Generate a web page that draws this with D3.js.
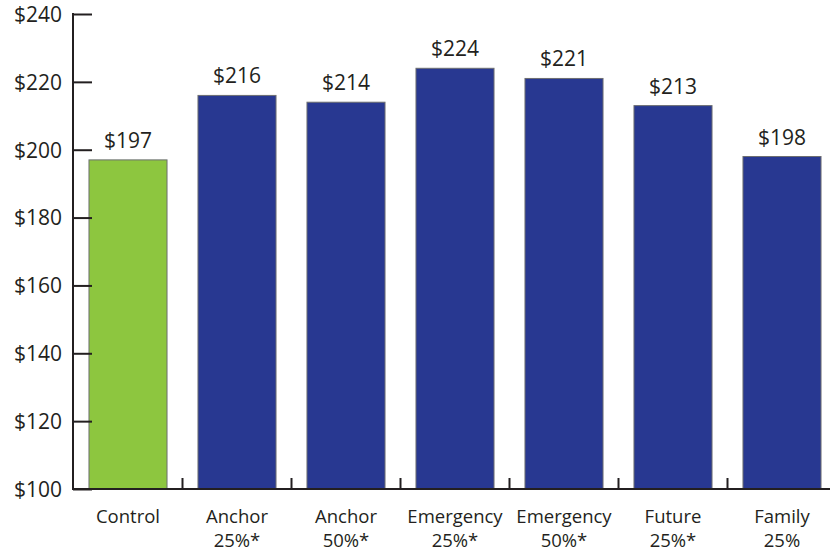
<!DOCTYPE html>
<html>
<head>
<meta charset="utf-8">
<script src="https://cdn.jsdelivr.net/npm/d3@7"></script>
<style>
  html, body { margin: 0; padding: 0; background: #fff; }
  svg text { font-family: "Open Sans", "Noto Sans", sans-serif; fill: #231f20; }
</style>
</head>
<body>
<svg id="chart" width="830" height="554"></svg>
<script>
// Average amount by message condition
const categories = ["Control", "Anchor 25%*", "Anchor 50%*", "Emergency 25%*", "Emergency 50%*", "Future 25%*", "Family 25%"];
const labelLines = [["Control"], ["Anchor", "25%*"], ["Anchor", "50%*"], ["Emergency", "25%*"], ["Emergency", "50%*"], ["Future", "25%*"], ["Family", "25%"]];
const values = [197, 216, 214, 224, 221, 213, 198];
const barColors = ["#8dc63f", "#283891", "#283891", "#283891", "#283891", "#283891", "#283891"];
const yTicks = [100, 120, 140, 160, 180, 200, 220, 240];

const svg = d3.select("#chart");
const ink = "#231f20";

const y = d3.scaleLinear().domain([100, 240]).range([489, 14]);
const x = d3.scaleBand().domain(categories).range([73.5, 836.5]).paddingInner(0.284).paddingOuter(0.142);
const step = x.step();

// Bars
svg.append("g").selectAll("rect")
  .data(categories)
  .join("rect")
  .attr("x", d => x(d))
  .attr("y", (d, i) => y(values[i]))
  .attr("width", x.bandwidth())
  .attr("height", (d, i) => y(100) - y(values[i]))
  .attr("fill", (d, i) => barColors[i])
  .attr("stroke", "#6d6e71")
  .attr("stroke-width", 1);

// Value labels
svg.append("g").selectAll("text")
  .data(categories)
  .join("text")
  .attr("x", d => x(d) + x.bandwidth() / 2)
  .attr("y", (d, i) => y(values[i]) - 12)
  .attr("text-anchor", "middle")
  .attr("font-size", 21)
  .text((d, i) => "$" + values[i]);

// Y axis
const yAxis = d3.axisLeft(y).tickValues(yTicks).tickSize(0).tickFormat(d => "$" + d);
const yg = svg.append("g").attr("transform", "translate(73,0)").call(yAxis);
yg.select(".domain").remove();
yg.attr("font-family", null).attr("font-size", null);
yg.selectAll("text").attr("x", -11).attr("dy", "0.35em").attr("font-size", 21).attr("fill", ink);
yg.selectAll(".tick").append("line").attr("x1", 0).attr("x2", 19).attr("stroke", ink).attr("stroke-width", 2);
svg.append("line").attr("x1", 73).attr("x2", 73).attr("y1", y(240) - 1).attr("y2", y(100) + 1)
  .attr("stroke", ink).attr("stroke-width", 2);

// X axis baseline and category separators
svg.append("line").attr("x1", 72).attr("x2", 830).attr("y1", y(100)).attr("y2", y(100))
  .attr("stroke", ink).attr("stroke-width", 2);
svg.append("g").selectAll("line")
  .data(categories.slice(1))
  .join("line")
  .attr("x1", d => x(d) - step * 0.142)
  .attr("x2", d => x(d) - step * 0.142)
  .attr("y1", y(100) - 11)
  .attr("y2", y(100))
  .attr("stroke", ink).attr("stroke-width", 2);

// Category labels
const cl = svg.append("g").selectAll("text")
  .data(categories)
  .join("text")
  .attr("x", d => x(d) + x.bandwidth() / 2)
  .attr("y", 523)
  .attr("text-anchor", "middle")
  .attr("font-size", 18.5);
cl.selectAll("tspan")
  .data((d, i) => labelLines[i])
  .join("tspan")
  .attr("x", function () { return this.parentNode.getAttribute("x"); })
  .attr("dy", (d, j) => j === 0 ? 0 : 24)
  .text(d => d);
</script>
</body>
</html>
